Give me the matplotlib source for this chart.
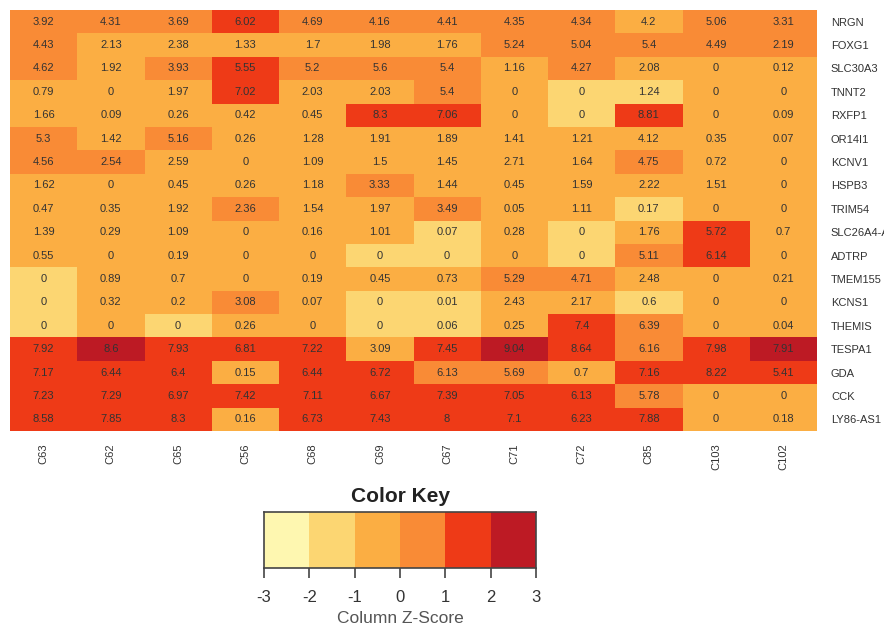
"""Expression heatmap with column z-score colouring and a discrete colour key."""

import matplotlib
matplotlib.use("Agg")
import matplotlib.pyplot as plt
import numpy as np
from matplotlib.colors import BoundaryNorm, ListedColormap

plt.rcParams["font.family"] = ["Liberation Sans", "DejaVu Sans"]

samples = ["C63", "C62", "C65", "C56", "C68", "C69", "C67", "C71", "C72", "C85", "C103", "C102"]
genes = ["NRGN", "FOXG1", "SLC30A3", "TNNT2", "RXFP1", "OR14I1", "KCNV1", "HSPB3", "TRIM54",
         "SLC26A4-AS1", "ADTRP", "TMEM155", "KCNS1", "THEMIS", "TESPA1", "GDA", "CCK", "LY86-AS1"]

# expression values, one list per gene (columns follow `samples`)
expr = [
    [3.92, 4.31, 3.69, 6.02, 4.69, 4.16, 4.41, 4.35, 4.34, 4.2, 5.06, 3.31],
    [4.43, 2.13, 2.38, 1.33, 1.7, 1.98, 1.76, 5.24, 5.04, 5.4, 4.49, 2.19],
    [4.62, 1.92, 3.93, 5.55, 5.2, 5.6, 5.4, 1.16, 4.27, 2.08, 0, 0.12],
    [0.79, 0, 1.97, 7.02, 2.03, 2.03, 5.4, 0, 0, 1.24, 0, 0],
    [1.66, 0.09, 0.26, 0.42, 0.45, 8.3, 7.06, 0, 0, 8.81, 0, 0.09],
    [5.3, 1.42, 5.16, 0.26, 1.28, 1.91, 1.89, 1.41, 1.21, 4.12, 0.35, 0.07],
    [4.56, 2.54, 2.59, 0, 1.09, 1.5, 1.45, 2.71, 1.64, 4.75, 0.72, 0],
    [1.62, 0, 0.45, 0.26, 1.18, 3.33, 1.44, 0.45, 1.59, 2.22, 1.51, 0],
    [0.47, 0.35, 1.92, 2.36, 1.54, 1.97, 3.49, 0.05, 1.11, 0.17, 0, 0],
    [1.39, 0.29, 1.09, 0, 0.16, 1.01, 0.07, 0.28, 0, 1.76, 5.72, 0.7],
    [0.55, 0, 0.19, 0, 0, 0, 0, 0, 0, 5.11, 6.14, 0],
    [0, 0.89, 0.7, 0, 0.19, 0.45, 0.73, 5.29, 4.71, 2.48, 0, 0.21],
    [0, 0.32, 0.2, 3.08, 0.07, 0, 0.01, 2.43, 2.17, 0.6, 0, 0],
    [0, 0, 0, 0.26, 0, 0, 0.06, 0.25, 7.4, 6.39, 0, 0.04],
    [7.92, 8.6, 7.93, 6.81, 7.22, 3.09, 7.45, 9.04, 8.64, 6.16, 7.98, 7.91],
    [7.17, 6.44, 6.4, 0.15, 6.44, 6.72, 6.13, 5.69, 0.7, 7.16, 8.22, 5.41],
    [7.23, 7.29, 6.97, 7.42, 7.11, 6.67, 7.39, 7.05, 6.13, 5.78, 0, 0],
    [8.58, 7.85, 8.3, 0.16, 6.73, 7.43, 8, 7.1, 6.23, 7.88, 0, 0.18],
]

key_ticks = [-3, -2, -1, 0, 1, 2, 3]
key_colors = ["#fef7b0", "#fcd672", "#fbae43", "#f98b36", "#ee3a17", "#bd1a24"]

vals = np.array(expr, dtype=float)
# column z-score (R scale(): sd with n-1)
z = (vals - vals.mean(axis=0)) / vals.std(axis=0, ddof=1)
z = np.clip(z, key_ticks[0], key_ticks[-1])

cmap = ListedColormap(key_colors)
norm = BoundaryNorm(key_ticks, cmap.N)

fig = plt.figure(figsize=(8.84, 6.3), dpi=100)

# main heatmap
ax = fig.add_axes([10 / 884, 1 - 431 / 630, 807 / 884, 421 / 630])
ax.pcolormesh(np.arange(len(samples) + 1), np.arange(len(genes) + 1), z,
              cmap=cmap, norm=norm)
ax.set_xlim(0, len(samples))
ax.set_ylim(len(genes), 0)
for i in range(len(genes)):
    for j in range(len(samples)):
        ax.text(j + 0.5, i + 0.5, f"{vals[i, j]:g}", ha="center", va="center",
                fontsize=8, color="#333333")
for s in ax.spines.values():
    s.set_visible(False)
ax.tick_params(length=0)
ax.set_xticks(np.arange(len(samples)) + 0.5)
ax.set_xticklabels(samples, rotation=90, va="top", fontsize=8, color="#333333")
ax.tick_params(axis="x", pad=9)
ax.yaxis.tick_right()
ax.set_yticks(np.arange(len(genes)) + 0.5)
ax.set_yticklabels(genes, fontsize=8, color="#333333")
ax.tick_params(axis="y", pad=10)

# colour key
kax = fig.add_axes([264 / 884, 1 - 568 / 630, 272 / 884, 56 / 630])
kax.pcolormesh(key_ticks, [0, 1], np.array([key_ticks[:-1]]) + 0.5, cmap=cmap, norm=norm)
kax.set_xlim(key_ticks[0], key_ticks[-1])
kax.set_ylim(0, 1)
kax.set_yticks([])
kax.set_xticks(key_ticks)
kax.set_xticklabels([str(t) for t in key_ticks], fontsize=12, color="#333333")
kax.tick_params(axis="x", length=7.5, width=1.2, color="#444444", pad=8)
for s in kax.spines.values():
    s.set_color("#444444")
    s.set_linewidth(1.2)
kax.set_title("Color Key", fontsize=15, fontweight="bold", color="#222222", pad=7)
kax.set_xlabel("Column Z-Score", fontsize=12.5, color="#555555", labelpad=5)

fig.savefig("out.png", dpi=100)
